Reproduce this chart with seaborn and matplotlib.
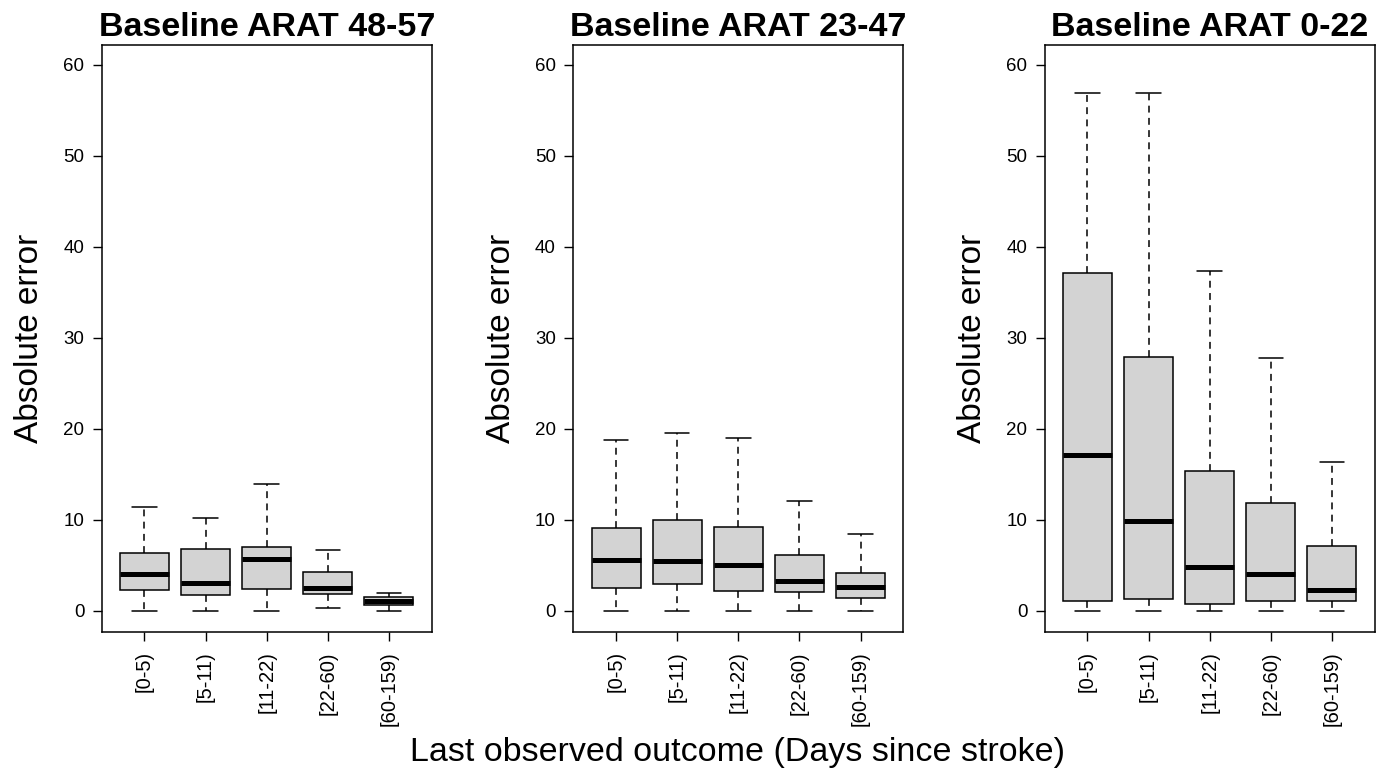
import numpy as np
import pandas as pd
import matplotlib
matplotlib.use("Agg")
import matplotlib.pyplot as plt
import seaborn as sns

periods = ["[0-5)", "[5-11)", "[11-22)", "[22-60)", "[60-159)"]
panels = ["Baseline ARAT 48-57", "Baseline ARAT 23-47", "Baseline ARAT 0-22"]

# five-number summaries per box: (min, q1, median, q3, max)
arat_48_57 = [
    [0.0, 2.26, 3.98, 6.35, 11.4],
    [0.0, 1.68, 3.03, 6.80, 10.2],
    [0.0, 2.34, 5.66, 6.97, 13.9],
    [0.33, 1.79, 2.45, 4.23, 6.64],
    [0.0, 0.58, 1.06, 1.53, 1.97],
]
arat_23_47 = [
    [0.0, 2.52, 5.58, 9.10, 18.7],
    [0.0, 2.95, 5.47, 9.96, 19.5],
    [0.0, 2.19, 5.03, 9.16, 19.0],
    [0.0, 2.05, 3.28, 6.09, 12.1],
    [0.0, 1.36, 2.63, 4.16, 8.39],
]
arat_0_22 = [
    [0.0, 1.03, 17.1, 37.1, 56.9],
    [0.0, 1.25, 9.82, 27.9, 56.9],
    [0.0, 0.74, 4.84, 15.4, 37.3],
    [0.0, 1.03, 4.07, 11.8, 27.8],
    [0.0, 1.03, 2.24, 7.14, 16.3],
]
summaries = [arat_48_57, arat_23_47, arat_0_22]

rows = []
for pname, summ in zip(panels, summaries):
    for per, five in zip(periods, summ):
        for v in five:
            rows.append({"panel": pname, "period": per, "value": v})
df = pd.DataFrame(rows)

sns.set_style("white")
plt.rcParams["font.family"] = ["Liberation Sans", "DejaVu Sans"]
plt.rcParams["text.color"] = "black"
plt.rcParams["axes.labelcolor"] = "black"
plt.rcParams["xtick.color"] = "black"
plt.rcParams["ytick.color"] = "black"

fig = plt.figure(figsize=(13.85, 7.69), dpi=100)
W, H = 1385, 769
lefts = [101.7, 573.3, 1044.7]
axw, top, bottom = 330, 44.5, 632.3

for i, pname in enumerate(panels):
    ax = fig.add_axes([lefts[i] / W, 1 - bottom / H, axw / W, (bottom - top) / H])
    sub = df[df["panel"] == pname]
    sns.boxplot(
        data=sub, x="period", y="value", order=periods, ax=ax,
        whis=(0, 100), width=0.8, color="#D3D3D3", saturation=1,
        linecolor="black", linewidth=1.1, showfliers=False,
        medianprops=dict(linewidth=3.6, color="black", solid_capstyle="butt"),
        whiskerprops=dict(linestyle=(0, (4.5, 3.5)), linewidth=1.1),
        capprops=dict(linewidth=1.1),
    )
    ax.set_xlim(-0.7, 4.7)
    ax.set_ylim(-2.37, 62.2)
    ax.set_yticks([0, 10, 20, 30, 40, 50, 60])
    ax.tick_params(axis="both", direction="out", length=6.5, width=1.0,
                   left=True, bottom=True, colors="black")
    ax.tick_params(axis="x", labelrotation=90, pad=7, labelsize=14.5)
    ax.tick_params(axis="y", pad=6, labelsize=13.5)
    for s in ax.spines.values():
        s.set_visible(True)
        s.set_color("black")
        s.set_linewidth(1.1)
    ax.set_xlabel("")
    ax.set_ylabel("Absolute error", fontsize=24, labelpad=13, color="black")
    ax.set_title(pname, fontsize=24.5, fontweight="bold", pad=6, color="black")

fig.text(738 / W, 1 - 752 / H, "Last observed outcome (Days since stroke)",
         ha="center", va="center", fontsize=24.5, color="black")

fig.savefig("out.png", dpi=100)
